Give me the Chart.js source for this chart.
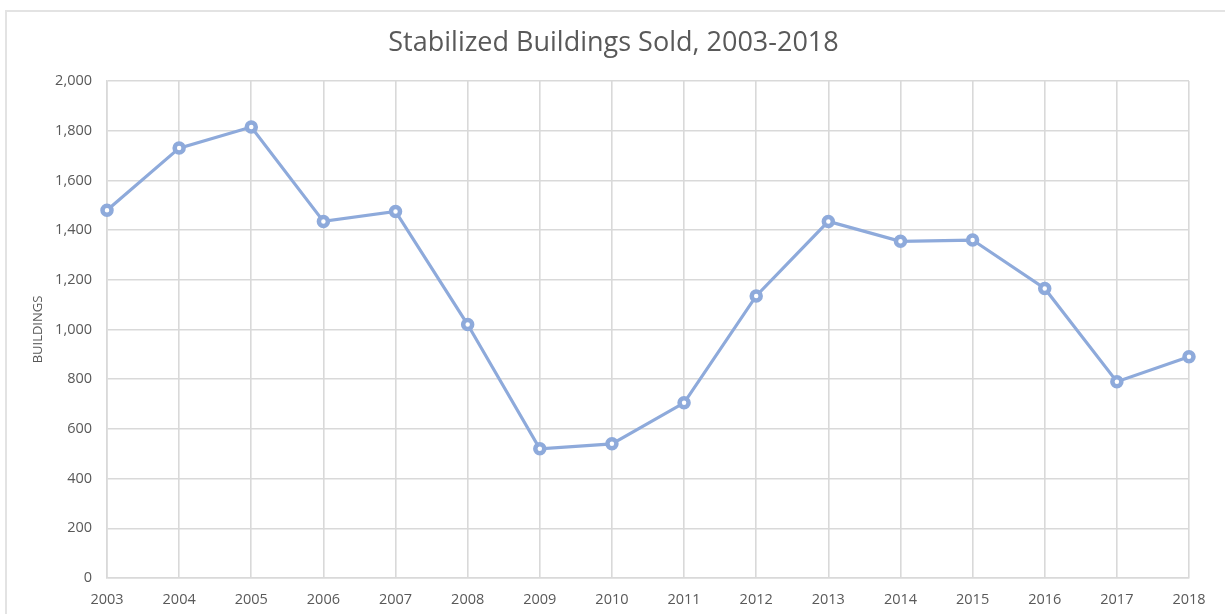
<!DOCTYPE html>
<html>
<head>
<meta charset="utf-8">
<script src="https://cdn.jsdelivr.net/npm/chart.js@4"></script>
<style>
  html, body { margin: 0; padding: 0; background: #fff; overflow: hidden; }
  #frame { position: absolute; left: 5px; top: 10px; width: 1400px; height: 800px; border: 2px solid #e3e3e3; box-sizing: border-box; }
  #wrap { position: absolute; left: 0; top: 0; width: 1225px; height: 614px; }
</style>
</head>
<body>
<div id="frame"></div>
<div id="wrap"><canvas id="c" width="1225" height="614"></canvas></div>
<script>
const categories = ["2003","2004","2005","2006","2007","2008","2009","2010","2011","2012","2013","2014","2015","2016","2017","2018"];
const buildingsSold = [1480, 1730, 1815, 1435, 1475, 1020, 520, 540, 705, 1135, 1435, 1355, 1360, 1165, 790, 890];
const yTicks = [0, 200, 400, 600, 800, 1000, 1200, 1400, 1600, 1800, 2000];
const titleText = "Stabilized Buildings Sold, 2003-2018";
const yAxisTitle = "BUILDINGS";

const FONT = "'Open Sans', Lato, sans-serif";
const GRID = "#d9d9d9";
const TXT = "#595959";

new Chart(document.getElementById('c'), {
  type: 'line',
  data: {
    labels: categories,
    datasets: [{
      data: buildingsSold,
      borderColor: '#8eaadb',
      borderWidth: 3.2,
      pointRadius: 4.5,
      pointBorderWidth: 4.5,
      pointBackgroundColor: '#ffffff',
      pointBorderColor: '#8eaadb',
      tension: 0,
      clip: false
    }]
  },
  options: {
    responsive: false,
    animation: false,
    layout: { padding: { left: 38, right: 36, top: 0, bottom: 0 } },
    plugins: {
      legend: { display: false },
      tooltip: { enabled: false },
      title: {
        display: true,
        text: titleText,
        color: TXT,
        font: { family: FONT, size: 27, weight: 'normal' },
        padding: { top: 26.8, bottom: 21.8 }
      }
    },
    scales: {
      x: {
        type: 'category',
        offset: false,
        grid: { color: GRID, lineWidth: 1.6, drawTicks: false },
        border: { color: GRID, width: 1.6 },
        ticks: { color: TXT, font: { family: FONT, size: 14.5 }, padding: 13, maxRotation: 0, autoSkip: false },
        afterFit: (s) => { s.height = 614 - 578; }
      },
      y: {
        min: 0, max: 2000,
        afterBuildTicks: (s) => { s.ticks = yTicks.map(v => ({ value: v })); },
        grid: { color: GRID, lineWidth: 1.6, drawTicks: false },
        border: { color: GRID, width: 1.6 },
        ticks: {
          color: TXT, font: { family: FONT, size: 14.5 }, padding: 15,
          callback: (v) => v.toLocaleString('en-US')
        },
        title: {
          display: true, text: yAxisTitle, color: TXT,
          font: { family: FONT, size: 13 }, padding: { top: -8, bottom: 0 }
        },
        afterFit: (s) => { s.width = 107 - 38; }
      }
    }
  }
});
</script>
</body>
</html>
